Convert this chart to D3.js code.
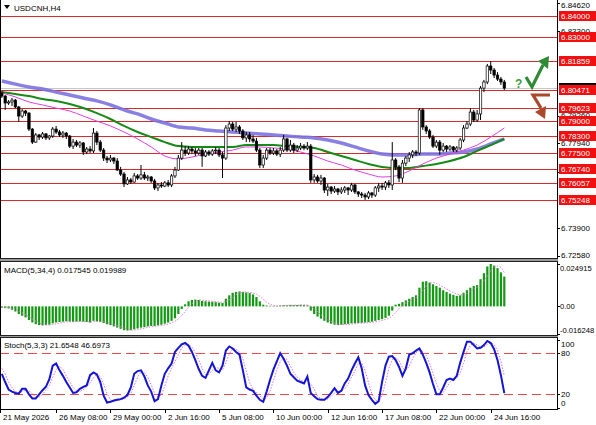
<!DOCTYPE html>
<html>
<head>
<meta charset="utf-8">
<script src="https://cdn.jsdelivr.net/npm/d3@7"></script>
<style>
  body { margin: 0; background: #fff; }
  svg { display: block; font-family: "Liberation Sans", Arial, sans-serif; font-size: 8px; }
</style>
</head>
<body>
<div id="chart"></div>
<script>
// USDCNH H4 candles: [open, high, low, close]
const candles = [
  [6.8034,6.8043,6.8010,6.8019],[6.8019,6.8024,6.7953,6.7986],[6.7986,6.8000,6.7977,6.7991],[6.7991,6.8010,6.7972,6.8000],[6.8000,6.8005,6.7962,6.7967],
  [6.7967,6.7972,6.7896,6.7924],[6.7924,6.7957,6.7915,6.7948],[6.7948,6.7953,6.7924,6.7938],[6.7938,6.7943,6.7853,6.7862],[6.7862,6.7867,6.7791,6.7800],
  [6.7800,6.7843,6.7796,6.7834],[6.7834,6.7839,6.7810,6.7824],[6.7824,6.7848,6.7815,6.7839],[6.7839,6.7843,6.7810,6.7820],[6.7820,6.7834,6.7810,6.7829],
  [6.7829,6.7872,6.7820,6.7862],[6.7862,6.7877,6.7839,6.7848],[6.7848,6.7858,6.7824,6.7834],[6.7834,6.7853,6.7820,6.7843],[6.7843,6.7848,6.7815,6.7829],
  [6.7829,6.7834,6.7772,6.7781],[6.7781,6.7815,6.7767,6.7800],[6.7800,6.7810,6.7777,6.7786],[6.7786,6.7805,6.7772,6.7796],[6.7796,6.7800,6.7739,6.7753],
  [6.7753,6.7777,6.7743,6.7767],[6.7767,6.7781,6.7748,6.7758],[6.7758,6.7867,6.7748,6.7843],[6.7843,6.7853,6.7786,6.7800],[6.7800,6.7810,6.7753,6.7762],
  [6.7762,6.7772,6.7710,6.7724],[6.7724,6.7734,6.7700,6.7715],[6.7715,6.7739,6.7705,6.7724],[6.7724,6.7729,6.7696,6.7710],[6.7710,6.7724,6.7663,6.7667],
  [6.7667,6.7682,6.7639,6.7648],[6.7648,6.7658,6.7586,6.7601],[6.7601,6.7634,6.7596,6.7620],[6.7620,6.7629,6.7601,6.7610],[6.7610,6.7653,6.7606,6.7639],
  [6.7639,6.7648,6.7620,6.7629],[6.7629,6.7691,6.7620,6.7644],[6.7644,6.7658,6.7620,6.7629],[6.7629,6.7644,6.7615,6.7634],[6.7634,6.7639,6.7606,6.7615],
  [6.7615,6.7625,6.7572,6.7582],[6.7582,6.7606,6.7567,6.7596],[6.7596,6.7610,6.7582,6.7591],[6.7591,6.7615,6.7586,6.7606],[6.7606,6.7620,6.7586,6.7596],
  [6.7596,6.7648,6.7586,6.7639],[6.7639,6.7682,6.7629,6.7667],[6.7667,6.7739,6.7663,6.7724],[6.7724,6.7800,6.7715,6.7762],[6.7762,6.7781,6.7734,6.7748],
  [6.7748,6.7781,6.7739,6.7767],[6.7767,6.7777,6.7743,6.7758],[6.7758,6.7772,6.7734,6.7748],[6.7748,6.7772,6.7739,6.7762],[6.7762,6.7772,6.7682,6.7734],
  [6.7734,6.7762,6.7729,6.7753],[6.7753,6.7762,6.7734,6.7743],[6.7743,6.7767,6.7734,6.7758],[6.7758,6.7777,6.7743,6.7762],[6.7762,6.7772,6.7729,6.7739],
  [6.7739,6.7753,6.7629,6.7724],[6.7724,6.7881,6.7715,6.7867],[6.7867,6.7900,6.7853,6.7886],[6.7886,6.7896,6.7853,6.7862],[6.7862,6.7896,6.7848,6.7872],
  [6.7872,6.7881,6.7839,6.7853],[6.7853,6.7862,6.7810,6.7820],[6.7820,6.7848,6.7800,6.7834],[6.7834,6.7848,6.7800,6.7815],[6.7815,6.7834,6.7796,6.7805],
  [6.7805,6.7820,6.7753,6.7762],[6.7762,6.7772,6.7677,6.7691],[6.7691,6.7739,6.7677,6.7724],[6.7724,6.7772,6.7715,6.7762],[6.7762,6.7772,6.7739,6.7748],
  [6.7748,6.7772,6.7739,6.7758],[6.7758,6.7767,6.7734,6.7743],[6.7743,6.7777,6.7729,6.7762],[6.7762,6.7834,6.7753,6.7815],[6.7815,6.7820,6.7753,6.7762],
  [6.7762,6.7810,6.7753,6.7786],[6.7786,6.7796,6.7748,6.7762],[6.7762,6.7786,6.7753,6.7772],[6.7772,6.7796,6.7762,6.7781],[6.7781,6.7791,6.7762,6.7772],
  [6.7772,6.7800,6.7762,6.7781],[6.7781,6.7791,6.7606,6.7620],[6.7620,6.7648,6.7606,6.7634],[6.7634,6.7644,6.7606,6.7615],[6.7615,6.7644,6.7596,6.7629],
  [6.7629,6.7634,6.7558,6.7572],[6.7572,6.7601,6.7544,6.7586],[6.7586,6.7591,6.7553,6.7567],[6.7567,6.7591,6.7558,6.7577],[6.7577,6.7582,6.7548,6.7563],
  [6.7563,6.7586,6.7553,6.7572],[6.7572,6.7591,6.7558,6.7582],[6.7582,6.7586,6.7548,6.7572],[6.7572,6.7606,6.7563,6.7596],[6.7596,6.7601,6.7553,6.7563],
  [6.7563,6.7567,6.7539,6.7553],[6.7553,6.7563,6.7534,6.7548],[6.7548,6.7558,6.7525,6.7539],[6.7539,6.7567,6.7529,6.7558],[6.7558,6.7563,6.7534,6.7548],
  [6.7548,6.7591,6.7539,6.7582],[6.7582,6.7606,6.7563,6.7591],[6.7591,6.7606,6.7572,6.7586],[6.7586,6.7615,6.7572,6.7606],[6.7606,6.7620,6.7582,6.7596],
  [6.7596,6.7800,6.7572,6.7715],[6.7715,6.7724,6.7667,6.7682],[6.7682,6.7691,6.7610,6.7629],[6.7629,6.7715,6.7606,6.7700],[6.7700,6.7734,6.7686,6.7724],
  [6.7724,6.7753,6.7705,6.7739],[6.7739,6.7762,6.7724,6.7753],[6.7753,6.7762,6.7734,6.7748],[6.7748,6.7962,6.7739,6.7953],[6.7953,6.7962,6.7858,6.7872],
  [6.7872,6.7881,6.7839,6.7853],[6.7853,6.7862,6.7815,6.7824],[6.7824,6.7834,6.7772,6.7781],[6.7781,6.7810,6.7772,6.7800],[6.7800,6.7810,6.7739,6.7762],
  [6.7762,6.7796,6.7753,6.7781],[6.7781,6.7786,6.7753,6.7767],[6.7767,6.7786,6.7758,6.7777],[6.7777,6.7781,6.7753,6.7762],[6.7762,6.7781,6.7753,6.7772],
  [6.7772,6.7820,6.7762,6.7810],[6.7810,6.7881,6.7800,6.7867],[6.7867,6.7900,6.7862,6.7886],[6.7886,6.7962,6.7877,6.7943],[6.7943,6.7953,6.7896,6.7905],
  [6.7905,6.7953,6.7896,6.7934],[6.7934,6.8067,6.7905,6.8057],[6.8057,6.8096,6.8038,6.8086],[6.8086,6.8172,6.8076,6.8162],[6.8162,6.8186,6.8124,6.8143],
  [6.8143,6.8153,6.8105,6.8119],[6.8119,6.8133,6.8091,6.8100],[6.8100,6.8110,6.8072,6.8086],[6.8086,6.8096,6.8048,6.8057]
];

// moving averages, one value every 4 bars
const maStep = 4;
const maSlow = [6.8091,6.8076,6.8062,6.8053,6.8038,6.8024,6.8010,6.7996,6.7977,6.7953,6.7934,6.7910,6.7891,6.7872,6.7867,6.7858,6.7853,6.7848,6.7843,6.7839,
  6.7834,6.7829,6.7824,6.7820,6.7810,6.7796,6.7777,6.7758,6.7743,6.7739,6.7739,6.7743,6.7743,6.7748,6.7753,6.7767,6.7791,6.7815];
const maMid = [6.8038,6.8029,6.8019,6.8005,6.7996,6.7981,6.7962,6.7938,6.7910,6.7877,6.7848,6.7824,6.7800,6.7781,6.7777,6.7777,6.7777,6.7777,6.7786,6.7786,
  6.7786,6.7781,6.7777,6.7772,6.7753,6.7734,6.7715,6.7696,6.7682,6.7677,6.7677,6.7686,6.7696,6.7710,6.7729,6.7758,6.7786,6.7815];
const maFast = [6.8034,6.8015,6.7991,6.7977,6.7962,6.7948,6.7924,6.7900,6.7877,6.7848,6.7815,6.7777,6.7734,6.7720,6.7729,6.7743,6.7753,6.7762,6.7777,6.7777,
  6.7772,6.7767,6.7753,6.7734,6.7710,6.7691,6.7667,6.7648,6.7634,6.7639,6.7663,6.7696,6.7724,6.7743,6.7762,6.7786,6.7824,6.7867];

// support / resistance levels
const levels = [6.84000, 6.83000, 6.81859, 6.80471, 6.79623, 6.79000, 6.78300, 6.77500, 6.76740, 6.76057, 6.75248];
const priceTicks = [6.84620, 6.83300, 6.79260, 6.77940, 6.76600, 6.73900, 6.72580];
const priceMin = 6.72580, priceMax = 6.84620;

// MACD(5,34,4)
const macdMain = [
  -0.0008,-0.0010,-0.0012,-0.0020,-0.0030,-0.0045,-0.0055,-0.0065,-0.0080,-0.0095,
  -0.0105,-0.0110,-0.0112,-0.0110,-0.0108,-0.0100,-0.0095,-0.0092,-0.0090,-0.0088,
  -0.0090,-0.0092,-0.0090,-0.0088,-0.0090,-0.0092,-0.0095,-0.0085,-0.0088,-0.0092,
  -0.0098,-0.0105,-0.0110,-0.0118,-0.0125,-0.0132,-0.0140,-0.0142,-0.0140,-0.0135,
  -0.0130,-0.0125,-0.0122,-0.0118,-0.0115,-0.0115,-0.0112,-0.0108,-0.0102,-0.0095,
  -0.0085,-0.0070,-0.0045,-0.0015,0.0012,0.0030,0.0038,0.0040,0.0038,0.0032,
  0.0030,0.0028,0.0027,0.0025,0.0022,0.0020,0.0045,0.0065,0.0080,0.0085,
  0.0088,0.0085,0.0082,0.0078,0.0070,0.0055,0.0030,0.0010,0.0005,0.0003,
  0.0002,0.0003,0.0005,0.0008,0.0006,0.0008,0.0007,0.0008,0.0009,0.0008,
  0.0006,-0.0025,-0.0045,-0.0060,-0.0072,-0.0085,-0.0095,-0.0102,-0.0108,-0.0110,
  -0.0108,-0.0105,-0.0103,-0.0100,-0.0100,-0.0098,-0.0097,-0.0095,-0.0093,-0.0090,
  -0.0085,-0.0080,-0.0075,-0.0068,-0.0055,-0.0025,0.0010,0.0015,0.0025,0.0035,
  0.0045,0.0055,0.0065,0.0110,0.0145,0.0148,0.0140,0.0130,0.0120,0.0110,
  0.0095,0.0085,0.0075,0.0068,0.0062,0.0065,0.0080,0.0095,0.0110,0.0120,
  0.0125,0.0160,0.0195,0.0235,0.024915,0.0240,0.0225,0.0200,0.017545
];
const macdSignal = [
  -0.0005,-0.0007,-0.0009,-0.0012,-0.0018,-0.0027,-0.0037,-0.0049,-0.0061,-0.0074,
  -0.0086,-0.0097,-0.0105,-0.0109,-0.0110,-0.0107,-0.0103,-0.0098,-0.0094,-0.0091,
  -0.0090,-0.0090,-0.0090,-0.0090,-0.0090,-0.0090,-0.0091,-0.0090,-0.0090,-0.0090,
  -0.0091,-0.0096,-0.0101,-0.0108,-0.0114,-0.0121,-0.0129,-0.0135,-0.0139,-0.0139,
  -0.0137,-0.0133,-0.0128,-0.0124,-0.0120,-0.0117,-0.0115,-0.0112,-0.0109,-0.0104,
  -0.0097,-0.0088,-0.0074,-0.0054,-0.0030,-0.0005,0.0016,0.0030,0.0037,0.0037,
  0.0035,0.0032,0.0029,0.0027,0.0026,0.0024,0.0028,0.0038,0.0052,0.0069,
  0.0079,0.0084,0.0085,0.0083,0.0079,0.0071,0.0059,0.0041,0.0025,0.0012,
  0.0005,0.0003,0.0003,0.0005,0.0006,0.0007,0.0007,0.0007,0.0008,0.0008,
  0.0008,0.0000,-0.0014,-0.0031,-0.0050,-0.0066,-0.0078,-0.0089,-0.0098,-0.0104,
  -0.0107,-0.0108,-0.0107,-0.0104,-0.0102,-0.0100,-0.0099,-0.0098,-0.0096,-0.0094,
  -0.0091,-0.0087,-0.0082,-0.0077,-0.0070,-0.0056,-0.0036,-0.0014,0.0006,0.0021,
  0.0030,0.0040,0.0050,0.0069,0.0094,0.0117,0.0136,0.0141,0.0135,0.0125,
  0.0114,0.0103,0.0091,0.0081,0.0073,0.0068,0.0069,0.0076,0.0088,0.0101,
  0.0113,0.0129,0.0150,0.0179,0.0210,0.0232,0.0237,0.0229,0.019989
];
const macdMax = 0.024915, macdMin = -0.016248;

// Stochastic(5,3,3)
const stochMain = [
  50,38,27,24,22,21,28,28,20,14, 14,20,26,31,42,62,65,55,47,38,
  30,22,23,28,31,33,48,52,49,38, 18,8,9,11,12,13,15,19,30,50,
  54,55,46,33,24,10,13,33,50,58, 65,82,88,93,95,91,82,70,57,47,
  44,55,66,55,52,62,84,90,87,82, 78,55,30,27,25,18,12,9,24,41,
  56,68,80,72,62,50,45,40,38,36, 46,22,17,13,12,12,16,22,29,22,
  25,36,43,55,65,74,58,33,19,12, 6,10,38,62,75,76,70,60,47,58,
  78,80,84,87,78,66,52,35,20,20, 30,41,43,41,47,66,82,97,97,92,
  87,88,92,98,95,86,70,48,21.6548
];
const stochSignal = [
  58,50,38,30,24,22,24,26,25,21, 16,16,20,26,33,45,56,61,56,47,
  38,30,25,24,27,31,37,44,50,46, 35,21,12,9,11,12,13,16,21,33,
  45,53,52,45,34,22,16,19,32,47, 58,68,78,88,92,93,89,81,70,58,
  49,49,55,59,58,56,66,79,87,86, 82,72,54,37,27,23,18,13,15,25,
  40,55,68,73,71,61,52,45,41,38, 40,35,28,17,14,12,13,17,22,24,
  25,28,35,45,54,65,66,55,37,21, 12,9,18,37,58,71,74,69,59,55,
  61,72,81,84,83,77,65,51,36,25, 23,30,38,42,44,51,65,82,92,95,
  92,89,89,93,95,93,84,68,46.6973
];
const stochLevels = [80, 20];
const stochTicks = [100, 80, 20, 0];

// time axis
const timeBars = [0, 16, 32, 48, 64, 80, 96, 112, 128, 144];
const timeLabels = ["21 May 2026", "26 May 08:00", "29 May 00:00", "2 Jun 16:00", "5 Jun 08:00",
  "10 Jun 00:00", "12 Jun 16:00", "17 Jun 08:00", "22 Jun 00:00", "24 Jun 16:00"];

const W = 596, H = 425;
const axisX = 557;
const mainTop = 0, mainBot = 258;
const macdTop = 262, macdBot = 335;
const stTop = 338, stBot = 409;

const svg = d3.select("#chart").append("svg")
  .attr("width", W)
  .attr("height", H);

const x = d3.scaleLinear().domain([0, candles.length - 1]).range([1.8, 504.3]);
const y = d3.scaleLinear().domain([priceMin, priceMax]).range([256, 3]);
const yM = d3.scaleLinear().domain([macdMin, macdMax]).range([334, 264]);
const yS = d3.scaleLinear().domain([0, 100]).range([408, 339.6]);

svg.append("clipPath").attr("id", "clipMain")
  .append("rect").attr("x", 0).attr("y", mainTop).attr("width", axisX).attr("height", mainBot - mainTop);

const main = svg.append("g").attr("clip-path", "url(#clipMain)");

// level lines
main.selectAll("line.level")
  .data(levels)
  .enter().append("line")
  .attr("class", "level")
  .attr("x1", 0).attr("x2", axisX)
  .attr("y1", d => Math.round(y(d)) + 0.5)
  .attr("y2", d => Math.round(y(d)) + 0.5)
  .attr("stroke", "#dc2a2a")
  .attr("stroke-width", 1);

// bid line
const lastClose = candles[candles.length - 1][3];
main.append("line")
  .attr("x1", 0).attr("x2", axisX)
  .attr("y1", Math.round(y(lastClose)) + 0.5)
  .attr("y2", Math.round(y(lastClose)) + 0.5)
  .attr("stroke", "#c8c8c8");

// moving averages
const maLine = d3.line()
  .x((d, i) => x(i * maStep))
  .y(d => y(d))
  .curve(d3.curveMonotoneX);

main.append("path").datum(maSlow)
  .attr("d", maLine).attr("fill", "none")
  .attr("stroke", "#7b72e0").attr("stroke-width", 3.5).attr("stroke-opacity", 0.9);
main.append("path").datum(maMid)
  .attr("d", maLine).attr("fill", "none")
  .attr("stroke", "#168a16").attr("stroke-width", 2);
main.append("path").datum(maFast)
  .attr("d", maLine).attr("fill", "none")
  .attr("stroke", "#e23ee2").attr("stroke-width", 1);

// candles
const bars = main.selectAll("g.candle")
  .data(candles)
  .enter().append("g")
  .attr("class", "candle");

bars.append("line")
  .attr("x1", (d, i) => x(i)).attr("x2", (d, i) => x(i))
  .attr("y1", d => y(d[1])).attr("y2", d => y(d[2]))
  .attr("stroke", "#000").attr("stroke-width", 1);

bars.append("rect")
  .attr("x", (d, i) => x(i) - 1.2)
  .attr("width", 2.4)
  .attr("y", d => y(Math.max(d[0], d[3])))
  .attr("height", d => Math.max(0.8, Math.abs(y(d[0]) - y(d[3]))))
  .attr("fill", d => d[3] >= d[0] ? "#fff" : "#000")
  .attr("stroke", "#000").attr("stroke-width", 0.7);

// arrows (forecast)
svg.append("path")
  .attr("d", "M526,77 L532,87 L543,65")
  .attr("fill", "none").attr("stroke", "#2f8a36").attr("stroke-width", 3.2)
  .attr("stroke-linejoin", "miter");
svg.append("path")
  .attr("d", "M549,56 L538,61 L548,69 Z")
  .attr("fill", "#2f8a36");
svg.append("text")
  .attr("x", 515).attr("y", 88)
  .attr("font-size", 12).attr("font-weight", "bold")
  .attr("fill", "#3f9a3f")
  .text("?");
svg.append("path")
  .attr("d", "M550,95 L533,95 L541,108")
  .attr("fill", "none").attr("stroke", "#a9482a").attr("stroke-width", 3.2);
svg.append("path")
  .attr("d", "M545,119 L535,112 L546,106 Z")
  .attr("fill", "#a9482a");

// MACD panel
const gM = svg.append("g");
gM.selectAll("rect")
  .data(macdMain)
  .enter().append("rect")
  .attr("x", (d, i) => x(i) - 1.1)
  .attr("width", 2.2)
  .attr("y", d => Math.min(yM(d), yM(0)))
  .attr("height", d => Math.abs(yM(d) - yM(0)))
  .attr("fill", "#139a13");

gM.append("path").datum(macdSignal)
  .attr("d", d3.line().x((d, i) => x(i)).y(d => yM(d)))
  .attr("fill", "none")
  .attr("stroke", "#e87ad8").attr("stroke-width", 1)
  .attr("stroke-dasharray", "1.5,1.5");

// Stochastic panel
stochLevels.forEach(v => {
  svg.append("line")
    .attr("x1", 0).attr("x2", axisX)
    .attr("y1", Math.round(yS(v)) + 0.5).attr("y2", Math.round(yS(v)) + 0.5)
    .attr("stroke", "#f04848").attr("stroke-width", 1)
    .attr("stroke-dasharray", "9,5");
});

svg.append("path").datum(stochSignal)
  .attr("d", d3.line().x((d, i) => x(i)).y(d => yS(d)))
  .attr("fill", "none")
  .attr("stroke", "#e070e0").attr("stroke-width", 1)
  .attr("stroke-dasharray", "1.5,1.5");
svg.append("path").datum(stochMain)
  .attr("d", d3.line().x((d, i) => x(i)).y(d => yS(d)))
  .attr("fill", "none")
  .attr("stroke", "#1414d4").attr("stroke-width", 2);

// frames
const frame = svg.append("g").attr("shape-rendering", "crispEdges");
frame.append("line").attr("x1", 0.5).attr("x2", 0.5).attr("y1", 0).attr("y2", stBot).attr("stroke", "#000");
frame.append("line").attr("x1", axisX + 0.5).attr("x2", axisX + 0.5).attr("y1", 0).attr("y2", stBot + 1).attr("stroke", "#000");
[[mainBot, macdTop], [macdBot, stTop]].forEach(([a, b]) => {
  frame.append("rect").attr("x", 0).attr("y", a).attr("width", axisX + 1).attr("height", b - a).attr("fill", "#9a9a9a");
  frame.append("line").attr("x1", 0).attr("x2", axisX + 1).attr("y1", a + 0.5).attr("y2", a + 0.5).attr("stroke", "#222");
  frame.append("line").attr("x1", 0).attr("x2", axisX + 1).attr("y1", b - 0.5).attr("y2", b - 0.5).attr("stroke", "#222");
});
frame.append("line").attr("x1", 0).attr("x2", axisX + 1).attr("y1", stBot + 0.5).attr("y2", stBot + 0.5).attr("stroke", "#000");

// right price axis
const clampText = (v, lo, hi) => Math.max(lo, Math.min(hi, v));
svg.selectAll("text.ptick")
  .data(priceTicks)
  .enter().append("text")
  .attr("class", "ptick")
  .attr("x", 561)
  .attr("y", d => clampText(y(d), 5, 255))
  .attr("dy", "0.35em")
  .attr("fill", "#000")
  .text(d => d.toFixed(5));
svg.selectAll("line.ptick")
  .data(priceTicks)
  .enter().append("line")
  .attr("x1", axisX).attr("x2", axisX + 3)
  .attr("y1", d => Math.round(y(d)) + 0.5).attr("y2", d => Math.round(y(d)) + 0.5)
  .attr("stroke", "#000");

// bid label (mostly hidden under the level tag)
svg.append("rect")
  .attr("x", 559).attr("y", Math.round(y(lastClose)) - 5)
  .attr("width", 37).attr("height", 10)
  .attr("fill", "#000");

// level tags
const tags = svg.selectAll("g.tag")
  .data(levels)
  .enter().append("g")
  .attr("class", "tag");
tags.append("rect")
  .attr("x", 559).attr("y", d => Math.round(y(d)) - 5)
  .attr("width", 37).attr("height", 10)
  .attr("fill", "#f20f0f");
tags.append("text")
  .attr("x", 561).attr("y", d => Math.round(y(d)))
  .attr("dy", "0.35em")
  .attr("fill", "#fff")
  .text(d => d.toFixed(5));

// MACD axis
[macdMax, 0, macdMin].forEach(v => {
  svg.append("text")
    .attr("x", 560).attr("y", clampText(yM(v), macdTop + 6, macdBot - 5))
    .attr("dy", "0.35em")
    .attr("font-size", 7.6)
    .text(v === 0 ? "0.00" : v.toFixed(6));
  svg.append("line")
    .attr("x1", axisX).attr("x2", axisX + 3)
    .attr("y1", Math.round(yM(v)) + 0.5).attr("y2", Math.round(yM(v)) + 0.5)
    .attr("stroke", "#000");
});

// Stochastic axis
stochTicks.forEach(v => {
  svg.append("text")
    .attr("x", 561).attr("y", clampText(yS(v), stTop + 6, stBot - 6))
    .attr("dy", "0.35em")
    .text(v);
  svg.append("line")
    .attr("x1", axisX).attr("x2", axisX + 3)
    .attr("y1", Math.round(yS(v)) + 0.5).attr("y2", Math.round(yS(v)) + 0.5)
    .attr("stroke", "#000");
});

// time axis
timeBars.forEach((b, k) => {
  const tx = k === 0 ? 0.5 : Math.round(x(b)) + 0.5;
  svg.append("line")
    .attr("x1", tx).attr("x2", tx)
    .attr("y1", stBot).attr("y2", stBot + 4)
    .attr("stroke", "#000");
  svg.append("text")
    .attr("x", tx + 2.5).attr("y", 420)
    .text(timeLabels[k]);
});

// titles
svg.append("path").attr("d", "M4,5 L10,5 L7,9 Z").attr("fill", "#000");
svg.append("text").attr("x", 14).attr("y", 11).text("USDCNH,H4");
svg.append("text").attr("x", 4).attr("y", 273).text("MACD(5,34,4) 0.017545 0.019989");
svg.append("text").attr("x", 4).attr("y", 348).text("Stoch(5,3,3) 21.6548 46.6973");
</script>
</body>
</html>
